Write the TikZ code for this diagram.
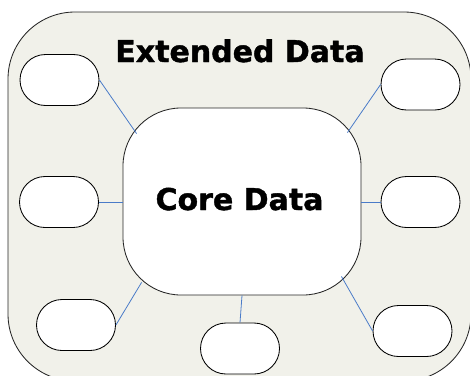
\documentclass[tikz,border=0pt]{standalone}
\usepackage{fontspec}
\newfontfamily\dvs[FakeBold=1.3]{DejaVu Sans Bold}
\usetikzlibrary{calc}
\definecolor{bgfill}{HTML}{F1F1EA}
\definecolor{connblue}{HTML}{4A7BC8}
\begin{document}
\begin{tikzpicture}[x=1pt,y=-1pt,
  oval/.style={draw=black, line width=0.85pt, fill=white, rectangle, rounded corners=25.5pt, minimum width=79pt, minimum height=51pt, inner sep=0pt},
  corebox/.style={draw=black!85, line width=0.85pt, fill=white, rectangle, rounded corners=58pt, minimum width=238pt, minimum height=187pt, inner sep=0pt},
  conn/.style={draw=connblue, line width=0.8pt},
  title/.style={font=\dvs\fontsize{30}{36}\selectfont, text=black, anchor=base, inner sep=0pt}]
\useasboundingbox (0,0) rectangle (470,375);
\begin{scope}
\clip (0,0) rectangle (470,375);
\draw[draw=black!85, line width=0.85pt, fill=bgfill, rounded corners=67pt] (8,12) rectangle (471,381);
\end{scope}
\node[corebox] (core) at (242,201.5) {};
\node[oval] (tl) at (59.5,80) {};
\node[oval] (tr) at (420.5,84.5) {};
\node[oval] (ml) at (59,202) {};
\node[oval] (mr) at (420.5,202) {};
\node[oval] (bl) at (76,325) {};
\node[oval] (bm) at (240,348.5) {};
\node[oval] (br) at (412.5,331) {};
\draw[conn] (tl.east) -- ($(core.north west)+(14,26)$);
\draw[conn] (tr.west) -- ($(core.north east)+(-14,25)$);
\draw[conn] (ml.east) -- (ml.east -| core.west);
\draw[conn] (mr.west) -- (mr.west -| core.east);
\draw[conn] (bl.east) -- ($(core.south west)+(19,-13)$);
\draw[conn] (bm.north) -- (core.south);
\draw[conn] (br.west) -- ($(core.south east)+(-20,-19)$);
\node[title] (ext) at (240,62) {Extended Data};
\node[title] (coretxt) at (239.5,210) {Core Data};
\end{tikzpicture}
\end{document}
